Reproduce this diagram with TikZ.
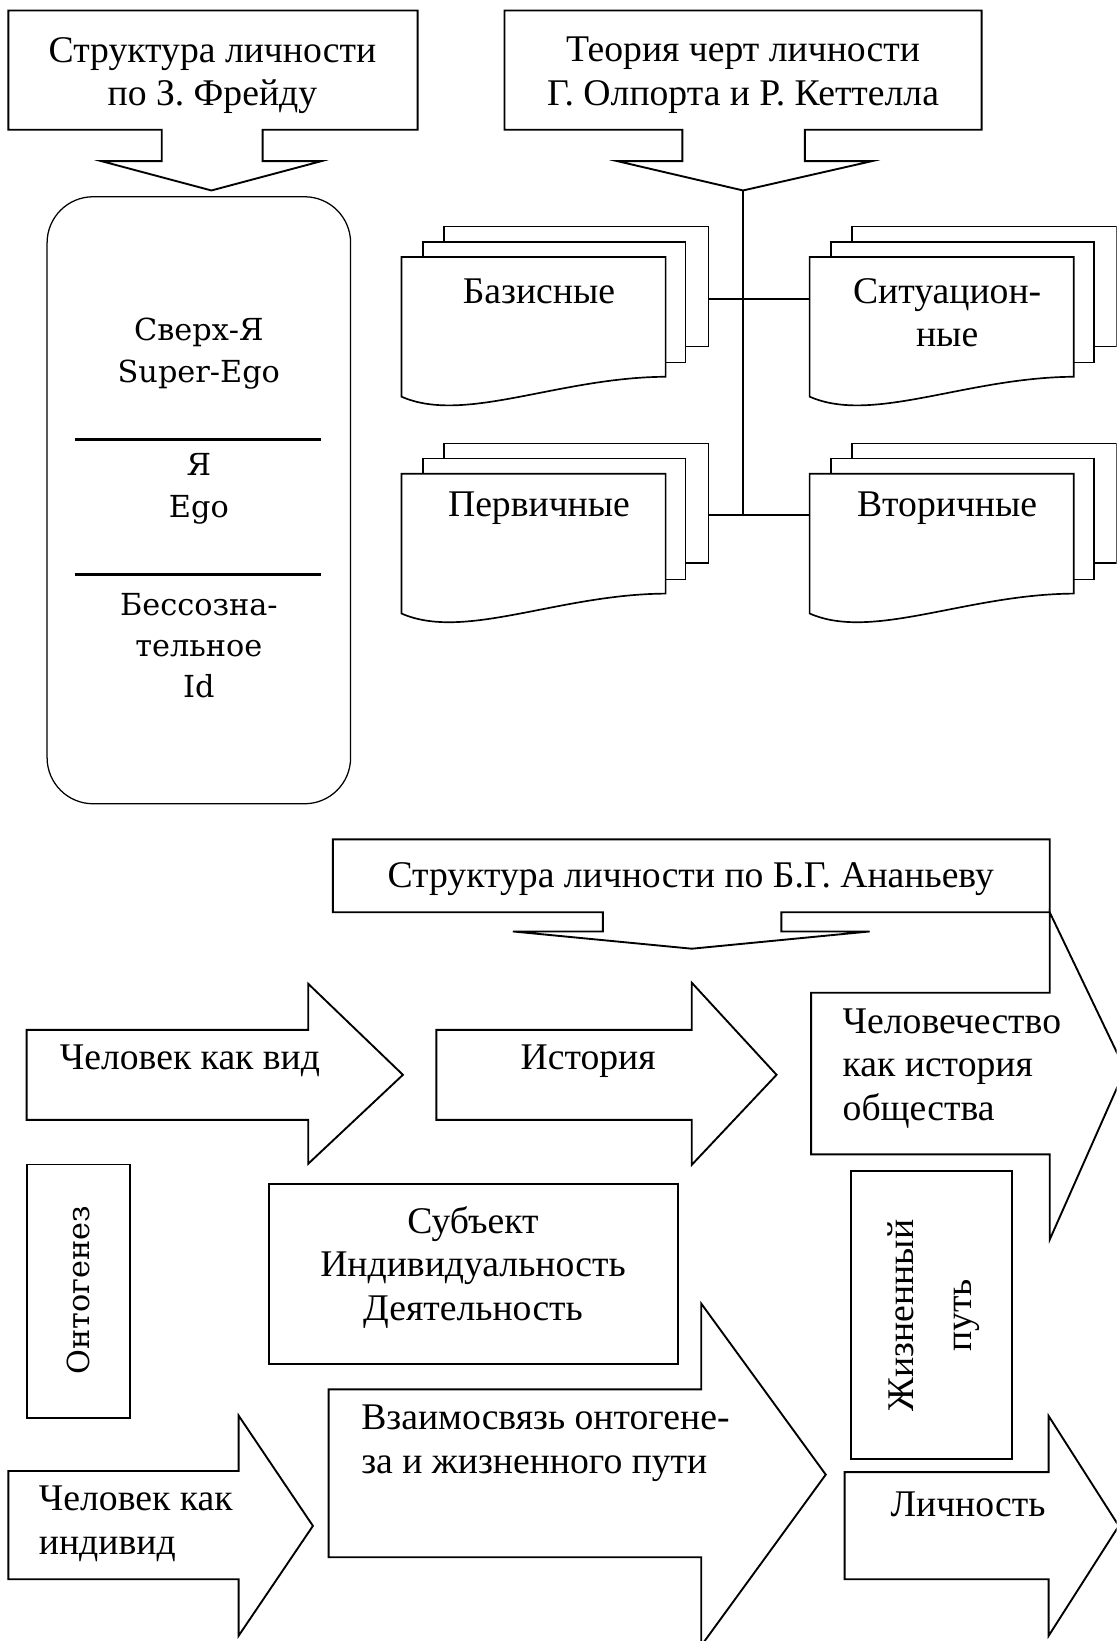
\documentclass[tikz,border=0pt]{standalone}
\usepackage{fontspec}
\setmainfont{Liberation Serif}
\newfontfamily\widefont{DejaVu Serif}

\tikzset{docsheet/.style={draw,fill=white,line width=1.6pt,line join=miter}}

% stack of three sheets, #1,#2 = top left corner of the front sheet
\newcommand{\docstack}[3]{%
  \begin{scope}[shift={(#1,#2)}]
    \node[docsheet,minimum width=253pt,minimum height=114.5pt] (#3b) at (166.9,28.25) {};
    \node[docsheet,minimum width=251pt,minimum height=115.5pt] (#3m) at (145.9,43.25) {};
    \draw[docsheet] (0,0) coordinate (#3f) -- (252.4,0) -- (252.4,114.5)
      .. controls (150,115) and (60,160) .. (0,133.5) -- cycle;
  \end{scope}}

\begin{document}
\begin{tikzpicture}[x=1pt,y=-1pt,
    font=\fontsize{36}{41.5}\selectfont,
    outline/.style={draw,line width=1.8pt,fill=white,line join=miter},
    joinline/.style={line width=1.6pt}]

  \useasboundingbox (0,0) rectangle (1067,1568);
  \clip (0,0) rectangle (1067,1568);
  \fill[white] (0,0) rectangle (1067,1568);

  % callouts at the top
  \draw[outline] (8,10) -- (399,10) -- (399,124) -- (251,124) -- (251,154) -- (307,154)
    -- (202,182) coordinate (t1) -- (97,154) -- (154.5,154) -- (154.5,124) -- (8,124) -- cycle;
  \draw[outline] (482,10) -- (938,10) -- (938,124) -- (769,124) -- (769,154) -- (833,154)
    -- (710,182) coordinate (t2) -- (590,154) -- (652,154) -- (652,124) -- (482,124) -- cycle;

  % Freud
  \node[draw,line width=1.2pt,rounded corners=44pt,minimum width=290pt,minimum height=580pt] (1) at (190,478) {};
  \draw[line width=3pt] (72,420) -- (307,420);
  \draw[line width=3pt] (72,549) -- (307,549);

  % traits
  \docstack{383.6}{245.5}{d1}
  \docstack{773.6}{245.5}{d2}
  \docstack{383.6}{452.7}{d3}
  \docstack{773.6}{452.7}{d4}

  \coordinate (7) at (710,285.5);
  \coordinate (8) at (710,492);
  \draw[joinline] (t2) -- (8);
  \draw[joinline] (d1b.east |- 7) -- (d2f |- 7);
  \draw[joinline] (d3b.east |- 8) -- (d4f |- 8);

  % Ananiev
  \draw[outline] (318,802) -- (1003,802) -- (1003,871.7) -- (746.6,871.7) -- (746.6,890) -- (831,890)
    -- (661,906.5) -- (490,890) -- (576,890) -- (576,871.7) -- (318,871.7) -- cycle;
  \draw[outline] (775,948.6) -- (1003,948.6) -- (1003,871.7) -- (1075,1022) -- (1003,1184.5)
    -- (1003,1103) -- (775,1103) -- cycle;
  \draw[outline] (25.5,984) -- (294.5,984) -- (294.5,940) -- (385,1027) -- (294.5,1112)
    -- (294.5,1070) -- (25.5,1070) -- cycle;
  \draw[outline] (417,984) -- (661,984) -- (661,939) -- (742,1027) -- (661,1113)
    -- (661,1070) -- (417,1070) -- cycle;
  \draw[outline] (314,1327.6) -- (670,1327.6) -- (670,1245.5) -- (789,1409) -- (670,1572.5)
    -- (670,1488) -- (314,1488) -- cycle;
  \draw[outline] (8,1405.6) -- (228,1405.6) -- (228,1352.6) -- (299,1458) -- (228,1563)
    -- (228,1509) -- (8,1509) -- cycle;
  \draw[outline] (807,1406.6) -- (1002,1406.6) -- (1002,1353) -- (1069,1458) -- (1002,1563)
    -- (1002,1509) -- (807,1509) -- cycle;
  \draw[outline] (25.8,1112.7) rectangle (123.8,1354.6);
  \draw[outline] (257,1131) rectangle (647.5,1303.7);
  \draw[outline] (812.8,1119) rectangle (966.6,1394.5);

  \begin{scope}[every node/.style={inner sep=0pt,align=center}]
    \node (10) at (203,72) {Структура личности\\по З. Фрейду};
    \node (11) at (710,72) {Теория черт личности\\Г. Олпорта и Р. Кеттелла};
    \node (12) at (515,278) {Базисные};
    \node (13) at (905,299) {Ситуацион-\\ные};
    \node (14) at (515,486) {Первичные};
    \node (15) at (905,486) {Вторичные};
    \node (16) at (660,840) {Структура личности по Б.Г. Ананьеву};
    \node (17) [anchor=west] at (57,1014) {Человек как вид};
    \node (18) at (562,1014) {История};
    \node (19) [anchor=west,align=left] at (805,1021) {Человечество\\как история\\общества};
    \node (20) at (452,1211) {Субъект\\Индивидуальность\\Деятельность};
    \node (21) [anchor=west,align=left] at (345,1379) {Взаимосвязь онтогене-\\за и жизненного пути};
    \node (22) [anchor=west,align=left] at (37,1456) {Человек как\\индивид};
    \node (23) [rotate=90] at (892,1257) {Жизненный\\[14pt]путь};
    \node (24) at (925,1437) {Личность};
  \end{scope}

  \begin{scope}[every node/.style={inner sep=0pt,align=center,font=\widefont\fontsize{29}{39.5}\selectfont}]
    \node (25) at (190,338) {Сверх-Я\\Super-Ego};
    \node (26) at (190,467) {Я\\Ego};
    \node (27) at (190,617) {Бессозна-\\тельное\\Id};
    \node (28) [rotate=90] at (75,1233) {Онтогенез};
  \end{scope}

\end{tikzpicture}
\end{document}
